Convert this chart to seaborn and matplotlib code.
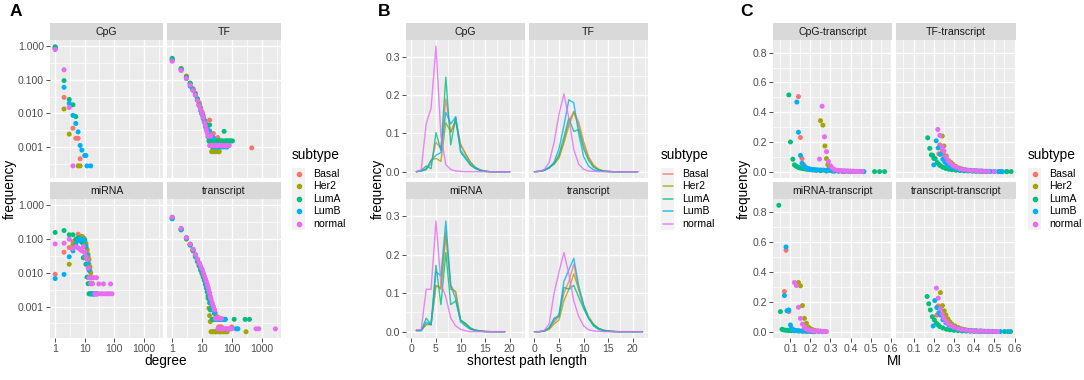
import numpy as np
import pandas as pd
import seaborn as sns
import matplotlib.pyplot as plt
from matplotlib.ticker import FixedLocator, NullFormatter
from matplotlib.patches import Rectangle
from matplotlib.lines import Line2D

SUBTYPES = ['Basal', 'Her2', 'LumA', 'LumB', 'normal']
COLORS = ['#F8766D', '#A3A500', '#00BF7D', '#00B0F6', '#E76BF3']
PALETTE = dict(zip(SUBTYPES, COLORS))

# ---- panel A: degree distribution, (degree, frequency) pairs ----
A_FACETS = ['CpG', 'TF', 'miRNA', 'transcript']
A_CPG = {
    'Basal': [(1, 0.88), (2, 0.030), (4, 0.0036), (5, 0.0018), (6, 0.0018), (7, 0.00044)],
    'Her2': [(1, 0.95), (2, 0.0135), (3, 0.0024), (6, 0.00027), (7, 0.00027)],
    'LumA': [(1, 0.97), (2, 0.095), (3, 0.026), (4, 0.018), (5, 0.008)],
    'LumB': [(1, 0.85), (2, 0.060), (3, 0.020), (4, 0.0087), (5, 0.005), (6, 0.0028), (7, 0.0011),
             (8, 0.0008), (10, 0.00055), (11, 0.00055), (12, 0.00027), (16, 0.00027)],
    'normal': [(1, 0.80), (2, 0.20), (3, 0.015), (4, 0.00027)],
}
A_TF = {
    'Basal': [(1, 0.40), (2, 0.21), (3, 0.125), (4, 0.075), (5, 0.055), (6, 0.040), (7, 0.027), (8, 0.021),
              (9, 0.015), (10, 0.011), (11, 0.0085), (12, 0.0065), (13, 0.0056), (14, 0.0047), (15, 0.0037),
              (16, 0.0028), (17, 0.0028), (18, 0.0063), (20, 0.0019), (22, 0.0019), (24, 0.0025),
              (27, 0.00093), (30, 0.00093), (34, 0.0019), (464, 0.00093)],
    'Her2': [(1, 0.42), (2, 0.22), (3, 0.13), (4, 0.078), (5, 0.052), (6, 0.037), (7, 0.026), (8, 0.019),
             (9, 0.014), (10, 0.0105), (11, 0.0079), (12, 0.0058), (13, 0.0043), (14, 0.0036), (15, 0.0029),
             (16, 0.0022), (17, 0.0022), (18, 0.0014), (19, 0.0014), (20, 0.0014), (21, 0.00072),
             (22, 0.00072), (24, 0.00072), (26, 0.00072), (28, 0.00072), (30, 0.00072), (33, 0.00072),
             (36, 0.00072), (38, 0.00072)],
    'LumA': [(1, 0.44), (2, 0.21), (3, 0.12), (4, 0.08), (5, 0.05), (6, 0.037), (7, 0.027), (8, 0.018),
             (9, 0.013), (10, 0.0095), (11, 0.0075), (12, 0.006), (13, 0.0045), (14, 0.0045), (15, 0.003),
             (16, 0.003), (17, 0.0015), (18, 0.0045), (19, 0.0015), (20, 0.0015), (21, 0.0015), (22, 0.0015),
             (24, 0.0015), (26, 0.0015), (28, 0.0015), (30, 0.0015), (32, 0.0015), (35, 0.0015), (38, 0.0015),
             (42, 0.0015), (46, 0.0015), (50, 0.0015), (55, 0.0029), (60, 0.0015), (65, 0.0015), (70, 0.0015),
             (78, 0.0015), (85, 0.0015), (95, 0.0015), (105, 0.0015)],
    'LumB': [(1, 0.38), (2, 0.20), (3, 0.11), (4, 0.065), (5, 0.05), (6, 0.035), (7, 0.025), (8, 0.017),
             (9, 0.012), (10, 0.0095), (11, 0.007), (12, 0.0055), (13, 0.004), (14, 0.0035), (15, 0.003),
             (16, 0.002), (17, 0.002), (18, 0.003), (20, 0.002), (22, 0.001), (24, 0.0019), (26, 0.001),
             (28, 0.001), (30, 0.001), (33, 0.001), (36, 0.001), (40, 0.001), (44, 0.001), (48, 0.001),
             (52, 0.001), (58, 0.001), (65, 0.001), (70, 0.001)],
    'normal': [(1, 0.36), (2, 0.19), (3, 0.11), (4, 0.07), (5, 0.048), (6, 0.035), (7, 0.024), (8, 0.017),
               (9, 0.013), (10, 0.01), (11, 0.0075), (12, 0.0053), (13, 0.0042), (14, 0.0032), (15, 0.0026),
               (16, 0.0021), (17, 0.0021), (18, 0.0011), (19, 0.0011), (20, 0.0021), (21, 0.0011),
               (22, 0.0011), (24, 0.0011), (26, 0.0011), (28, 0.0011), (30, 0.0011), (33, 0.0011),
               (36, 0.0011), (40, 0.0011), (44, 0.0011), (48, 0.0011), (53, 0.0011), (58, 0.0011),
               (64, 0.0011), (70, 0.0011), (76, 0.0011), (82, 0.0011)],
}
A_MIRNA = {
    'Basal': [(1, 0.0091), (2, 0.041), (3, 0.056), (4, 0.085), (5, 0.09), (6, 0.14), (7, 0.11), (8, 0.12),
              (9, 0.11), (10, 0.095), (11, 0.065), (12, 0.045), (13, 0.03), (14, 0.018), (15, 0.012),
              (16, 0.0072), (18, 0.0048), (20, 0.0024), (22, 0.0024)],
    'Her2': [(3, 0.018), (4, 0.07), (5, 0.08), (6, 0.10), (7, 0.11), (8, 0.12), (9, 0.11), (10, 0.10),
             (11, 0.075), (12, 0.05), (13, 0.035), (14, 0.025), (15, 0.015), (16, 0.01), (17, 0.0072),
             (18, 0.0048), (20, 0.0024), (22, 0.0024), (25, 0.0024)],
    'LumA': [(1, 0.158), (2, 0.18), (3, 0.135), (4, 0.135), (5, 0.10), (6, 0.11), (7, 0.10), (8, 0.08),
             (9, 0.028), (10, 0.03), (11, 0.018), (12, 0.0075), (13, 0.0048), (14, 0.0024), (15, 0.0024),
             (16, 0.0024), (17, 0.0024), (18, 0.0024), (20, 0.0024)],
    'LumB': [(1, 0.0068), (2, 0.009), (3, 0.03), (4, 0.045), (5, 0.07), (6, 0.09), (7, 0.10), (8, 0.10),
             (9, 0.10), (10, 0.09), (11, 0.06), (12, 0.035), (13, 0.02), (14, 0.012), (15, 0.0072),
             (16, 0.0048), (18, 0.0024), (20, 0.0024), (22, 0.0024), (25, 0.0024), (28, 0.0024)],
    'normal': [(1, 0.072), (2, 0.076), (3, 0.10), (4, 0.053), (5, 0.06), (6, 0.055), (7, 0.05), (8, 0.045),
               (9, 0.06), (10, 0.04), (11, 0.03), (12, 0.025), (13, 0.014), (14, 0.0072), (15, 0.0072),
               (16, 0.0048), (17, 0.0072), (18, 0.0048), (20, 0.0072), (22, 0.0024), (25, 0.0072),
               (28, 0.0024), (30, 0.0047), (35, 0.0024), (40, 0.0024), (43, 0.0047), (50, 0.0024),
               (60, 0.0024), (70, 0.0024), (75, 0.0047), (84, 0.0024)],
}
A_TRANSCRIPT = {
    'Basal': [(1, 0.41), (2, 0.20), (3, 0.11), (4, 0.07), (5, 0.048), (6, 0.033), (7, 0.024), (8, 0.018),
              (9, 0.014), (10, 0.011), (11, 0.009), (12, 0.007), (13, 0.0056), (14, 0.0046), (15, 0.0038),
              (16, 0.0031), (17, 0.0026), (18, 0.0021), (19, 0.0017), (20, 0.0015), (22, 0.0012),
              (24, 0.001), (26, 0.0008), (28, 0.00065), (30, 0.0005), (33, 0.0005), (36, 0.00025),
              (40, 0.00025), (45, 0.00025), (100, 0.00025)],
    'Her2': [(1, 0.44), (2, 0.19), (3, 0.10), (4, 0.066), (5, 0.045), (6, 0.031), (7, 0.022), (8, 0.017),
             (9, 0.013), (10, 0.01), (11, 0.008), (12, 0.0063), (13, 0.005), (14, 0.0036), (15, 0.0027),
             (16, 0.0018), (17, 0.0009), (18, 0.00054), (19, 0.00036), (20, 0.00018), (22, 0.00018),
             (25, 0.00018), (28, 0.00018), (30, 0.00018), (34, 0.00018), (38, 0.00018), (42, 0.00018),
             (48, 0.00018), (55, 0.00018), (62, 0.00018), (70, 0.00018), (300, 0.00018)],
    'LumA': [(1, 0.42), (2, 0.20), (3, 0.105), (4, 0.068), (5, 0.046), (6, 0.03), (7, 0.022), (8, 0.016),
             (9, 0.012), (10, 0.0095), (11, 0.0075), (12, 0.006), (13, 0.0045), (14, 0.0035), (15, 0.0028),
             (16, 0.0021), (17, 0.0017), (18, 0.0013), (19, 0.0008), (20, 0.00084), (22, 0.00042),
             (24, 0.00042), (26, 0.00042), (28, 0.00042), (30, 0.00042), (33, 0.00042), (36, 0.00042),
             (40, 0.00042), (45, 0.00042), (50, 0.00042), (55, 0.00042), (60, 0.00042), (120, 0.00042),
             (280, 0.00042), (390, 0.00042)],
    'LumB': [(1, 0.40), (2, 0.19), (3, 0.11), (4, 0.07), (5, 0.05), (6, 0.034), (7, 0.025), (8, 0.019),
             (9, 0.015), (10, 0.012), (11, 0.0095), (12, 0.0075), (13, 0.006), (14, 0.0048), (15, 0.0039),
             (16, 0.0031), (17, 0.0025), (18, 0.002), (19, 0.0016), (20, 0.0013), (22, 0.001), (24, 0.0008),
             (26, 0.00063), (28, 0.00042), (32, 0.00042), (36, 0.00042), (40, 0.00042), (45, 0.00042),
             (50, 0.00042), (60, 0.00042), (140, 0.00022), (160, 0.00022)],
    'normal': [(1, 0.45), (2, 0.21), (3, 0.11), (4, 0.072), (5, 0.05), (6, 0.035), (7, 0.026), (8, 0.02),
               (9, 0.016), (10, 0.013), (11, 0.01), (12, 0.008), (13, 0.0066), (14, 0.0055), (15, 0.0045),
               (16, 0.0037), (17, 0.003), (18, 0.0025), (19, 0.002), (20, 0.0017), (22, 0.0013), (24, 0.001),
               (26, 0.0008), (28, 0.00044), (30, 0.00044), (32, 0.00044), (36, 0.00044), (40, 0.00044),
               (45, 0.00044), (34, 0.00022), (38, 0.00022), (42, 0.00022), (48, 0.00022), (52, 0.00022),
               (58, 0.00022), (64, 0.00022), (72, 0.00022), (80, 0.00022), (90, 0.00022), (100, 0.00022),
               (650, 0.00022), (800, 0.00022), (2900, 0.00022)],
}

# ---- panel B: shortest path length distributions ----
B_FACETS = ['CpG', 'TF', 'miRNA', 'transcript']
B_X_CPG = [1, 2, 3, 4, 5, 6, 7, 8, 9, 10, 11, 12, 13, 14, 15, 16, 17, 18, 19, 20]
B_CPG = {
    'Basal': [0, 0.003, 0.008, 0.02, 0.077, 0.06, 0.19, 0.103, 0.138, 0.073, 0.047, 0.025, 0.01, 0.004, 0.001, 0, 0, 0, 0, 0],
    'Her2': [0, 0.002, 0.005, 0.03, 0.035, 0.027, 0.128, 0.104, 0.13, 0.069, 0.047, 0.025, 0.012, 0.005, 0.002, 0, 0, 0, 0, 0],
    'LumA': [0, 0.003, 0.015, 0.008, 0.102, 0.056, 0.247, 0.07, 0.143, 0.051, 0.034, 0.017, 0.008, 0.003, 0.001, 0, 0, 0, 0, 0],
    'LumB': [0, 0.002, 0.006, 0.03, 0.043, 0.05, 0.155, 0.125, 0.143, 0.056, 0.038, 0.02, 0.01, 0.004, 0.001, 0, 0, 0, 0, 0],
    'normal': [0, 0.005, 0.125, 0.166, 0.328, 0.095, 0.018, 0.006, 0.002, 0.001, 0, 0, 0, 0, 0, 0, 0, 0, 0, 0],
}
B_X_TF = [0, 1, 2, 3, 4, 5, 6, 7, 8, 9, 10, 11, 12, 13, 14, 15, 16, 17, 18, 19, 20, 21]
B_TF = {
    'Basal': [0, 0.001, 0.004, 0.01, 0.022, 0.04, 0.08, 0.13, 0.158, 0.13, 0.08, 0.04, 0.018, 0.007, 0.002, 0.001, 0, 0, 0, 0, 0, 0],
    'Her2': [0, 0.001, 0.004, 0.01, 0.02, 0.035, 0.075, 0.12, 0.155, 0.12, 0.07, 0.035, 0.015, 0.006, 0.002, 0.001, 0, 0, 0, 0, 0, 0],
    'LumA': [0, 0.001, 0.004, 0.012, 0.02, 0.045, 0.09, 0.14, 0.105, 0.11, 0.06, 0.03, 0.012, 0.005, 0.002, 0.001, 0, 0, 0, 0, 0, 0],
    'LumB': [0, 0.001, 0.003, 0.01, 0.025, 0.06, 0.12, 0.188, 0.18, 0.10, 0.04, 0.015, 0.005, 0.002, 0.001, 0, 0, 0, 0, 0, 0, 0],
    'normal': [0, 0.001, 0.006, 0.024, 0.077, 0.15, 0.203, 0.14, 0.058, 0.02, 0.006, 0.002, 0.001, 0, 0, 0, 0, 0, 0, 0, 0, 0],
}
B_X_MIRNA = [1, 2, 3, 4, 5, 6, 7, 8, 9, 10, 11, 12, 13, 14, 15, 16, 17, 18, 19]
B_MIRNA = {
    'Basal': [0.003, 0.003, 0.02, 0.02, 0.12, 0.115, 0.25, 0.12, 0.10, 0.03, 0.02, 0.008, 0.004, 0.002, 0.001, 0, 0, 0, 0],
    'Her2': [0.003, 0.003, 0.018, 0.018, 0.12, 0.11, 0.26, 0.11, 0.105, 0.03, 0.018, 0.008, 0.004, 0.002, 0.001, 0, 0, 0, 0],
    'LumA': [0.003, 0.003, 0.035, 0.018, 0.172, 0.07, 0.205, 0.07, 0.08, 0.03, 0.022, 0.01, 0.004, 0.002, 0, 0, 0, 0, 0],
    'LumB': [0.003, 0.003, 0.025, 0.018, 0.155, 0.145, 0.287, 0.12, 0.085, 0.025, 0.015, 0.006, 0.003, 0.001, 0, 0, 0, 0, 0],
    'normal': [0.005, 0.005, 0.11, 0.11, 0.287, 0.125, 0.09, 0.035, 0.015, 0.006, 0.002, 0, 0, 0, 0, 0, 0, 0, 0],
}
B_X_TRANSCRIPT = [0, 1, 2, 3, 4, 5, 6, 7, 8, 9, 10, 11, 12, 13, 14, 15, 16, 17, 18, 19, 20, 21, 22]
B_TRANSCRIPT = {
    'Basal': [0, 0, 0.002, 0.008, 0.025, 0.04, 0.10, 0.13, 0.175, 0.11, 0.065, 0.035, 0.018, 0.008, 0.003, 0.001, 0, 0, 0, 0, 0, 0, 0],
    'Her2': [0, 0, 0.001, 0.006, 0.02, 0.03, 0.08, 0.11, 0.15, 0.11, 0.07, 0.04, 0.02, 0.009, 0.004, 0.002, 0.001, 0, 0, 0, 0, 0, 0],
    'LumA': [0, 0, 0.002, 0.01, 0.035, 0.04, 0.115, 0.11, 0.12, 0.09, 0.06, 0.035, 0.018, 0.009, 0.004, 0.002, 0.001, 0, 0, 0, 0, 0, 0],
    'LumB': [0, 0, 0.002, 0.01, 0.03, 0.045, 0.13, 0.16, 0.19, 0.12, 0.07, 0.035, 0.015, 0.006, 0.002, 0.001, 0, 0, 0, 0, 0, 0, 0],
    'normal': [0, 0, 0.003, 0.02, 0.10, 0.155, 0.205, 0.15, 0.08, 0.04, 0.015, 0.005, 0.002, 0.001, 0, 0, 0, 0, 0, 0, 0, 0, 0],
}

# ---- panel C: MI distributions, (MI, frequency) pairs ----
C_FACETS = ['CpG-transcript', 'TF-transcript', 'miRNA-transcript', 'transcript-transcript']
C_CPG = {
    'Basal': [(0.14, 0.505), (0.15, 0.23), (0.158, 0.088), (0.167, 0.046), (0.175, 0.03), (0.185, 0.02),
              (0.20, 0.014), (0.22, 0.01), (0.25, 0.007), (0.28, 0.005), (0.32, 0.003), (0.36, 0.002), (0.40, 0.001)],
    'Her2': [(0.25, 0.343), (0.262, 0.313), (0.272, 0.173), (0.28, 0.088), (0.287, 0.047), (0.295, 0.03),
             (0.305, 0.018), (0.32, 0.01), (0.34, 0.006), (0.37, 0.003), (0.40, 0.002)],
    'LumA': [(0.092, 0.516), (0.10, 0.20), (0.112, 0.084), (0.12, 0.046), (0.128, 0.038), (0.135, 0.033),
             (0.142, 0.028), (0.15, 0.025), (0.16, 0.022), (0.17, 0.02), (0.18, 0.017), (0.195, 0.014),
             (0.21, 0.012), (0.23, 0.01), (0.25, 0.008), (0.28, 0.006), (0.31, 0.005), (0.34, 0.004),
             (0.37, 0.003), (0.40, 0.002), (0.43, 0.002), (0.46, 0.001), (0.52, 0.001), (0.545, 0.001), (0.57, 0.001)],
    'LumB': [(0.132, 0.468), (0.14, 0.265), (0.15, 0.11), (0.158, 0.057), (0.167, 0.035), (0.18, 0.025),
             (0.19, 0.02), (0.20, 0.018), (0.21, 0.016), (0.22, 0.015), (0.235, 0.013), (0.25, 0.012),
             (0.265, 0.011), (0.28, 0.01), (0.295, 0.009), (0.31, 0.008), (0.325, 0.007), (0.34, 0.006),
             (0.355, 0.005), (0.37, 0.004), (0.385, 0.004), (0.40, 0.003), (0.415, 0.003), (0.43, 0.002),
             (0.445, 0.002), (0.467, 0.001)],
    'normal': [(0.245, 0.085), (0.258, 0.44), (0.27, 0.235), (0.28, 0.135), (0.29, 0.07), (0.30, 0.04),
               (0.31, 0.025), (0.32, 0.015), (0.335, 0.01), (0.35, 0.007), (0.36, 0.006), (0.37, 0.005),
               (0.38, 0.0045), (0.39, 0.004), (0.40, 0.0035), (0.41, 0.003), (0.42, 0.0025), (0.43, 0.002),
               (0.44, 0.0015), (0.458, 0.001)],
}
C_TF = {
    'Basal': [(0.225, 0.12), (0.23, 0.18), (0.242, 0.14), (0.252, 0.11), (0.262, 0.085), (0.275, 0.065),
              (0.29, 0.045), (0.31, 0.03), (0.33, 0.02), (0.35, 0.014), (0.38, 0.009), (0.41, 0.006),
              (0.44, 0.004), (0.47, 0.003), (0.50, 0.002), (0.53, 0.001), (0.563, 0.001)],
    'Her2': [(0.242, 0.24), (0.25, 0.173), (0.262, 0.106), (0.275, 0.073), (0.285, 0.062), (0.295, 0.05),
             (0.31, 0.035), (0.325, 0.025), (0.34, 0.018), (0.36, 0.012), (0.38, 0.008), (0.40, 0.006),
             (0.43, 0.004), (0.46, 0.002)],
    'LumA': [(0.17, 0.228), (0.18, 0.157), (0.188, 0.113), (0.195, 0.11), (0.20, 0.09), (0.207, 0.088),
             (0.217, 0.062), (0.225, 0.05), (0.233, 0.04), (0.245, 0.03), (0.26, 0.022), (0.275, 0.017),
             (0.29, 0.013), (0.31, 0.01), (0.33, 0.008), (0.35, 0.006), (0.37, 0.005), (0.39, 0.004),
             (0.41, 0.003), (0.43, 0.003), (0.45, 0.002), (0.47, 0.002), (0.50, 0.001), (0.53, 0.001),
             (0.56, 0.001), (0.583, 0.001)],
    'LumB': [(0.20, 0.046), (0.212, 0.208), (0.222, 0.16), (0.233, 0.117), (0.245, 0.084), (0.255, 0.065),
             (0.265, 0.05), (0.28, 0.035), (0.30, 0.025), (0.32, 0.018), (0.34, 0.013), (0.36, 0.01),
             (0.38, 0.008), (0.40, 0.006), (0.42, 0.005), (0.44, 0.004), (0.46, 0.003), (0.48, 0.002),
             (0.50, 0.002), (0.52, 0.001), (0.54, 0.001)],
    'normal': [(0.22, 0.284), (0.23, 0.244), (0.242, 0.17), (0.25, 0.14), (0.26, 0.10), (0.27, 0.075),
               (0.28, 0.058), (0.295, 0.042), (0.31, 0.03), (0.33, 0.02), (0.35, 0.014), (0.37, 0.01),
               (0.39, 0.008), (0.41, 0.006), (0.43, 0.004), (0.45, 0.003), (0.47, 0.002), (0.50, 0.001)],
}
C_MIRNA = {
    'Basal': [(0.07, 0.268), (0.078, 0.543), (0.092, 0.134), (0.103, 0.022), (0.11, 0.015), (0.12, 0.01),
              (0.13, 0.007), (0.15, 0.005), (0.17, 0.003), (0.19, 0.002), (0.21, 0.001)],
    'Her2': [(0.14, 0.328), (0.15, 0.306), (0.16, 0.174), (0.17, 0.089), (0.18, 0.056), (0.19, 0.03),
             (0.20, 0.02), (0.21, 0.013), (0.22, 0.009), (0.235, 0.006), (0.25, 0.004), (0.27, 0.002)],
    'LumA': [(0.042, 0.843), (0.05, 0.134), (0.058, 0.016), (0.065, 0.012), (0.075, 0.01), (0.085, 0.009),
             (0.095, 0.008), (0.105, 0.007), (0.12, 0.006), (0.14, 0.005), (0.16, 0.004), (0.18, 0.003),
             (0.20, 0.002), (0.22, 0.001)],
    'LumB': [(0.07, 0.241), (0.078, 0.565), (0.083, 0.14), (0.092, 0.145), (0.10, 0.045), (0.108, 0.02),
             (0.115, 0.012), (0.125, 0.008), (0.14, 0.006), (0.16, 0.005), (0.18, 0.004), (0.20, 0.003),
             (0.22, 0.002), (0.24, 0.002), (0.26, 0.001)],
    'normal': [(0.12, 0.328), (0.13, 0.308), (0.14, 0.163), (0.15, 0.089), (0.16, 0.051), (0.17, 0.027),
               (0.18, 0.018), (0.19, 0.012), (0.20, 0.009), (0.21, 0.007), (0.22, 0.005), (0.235, 0.004),
               (0.25, 0.003), (0.265, 0.002), (0.28, 0.001)],
}
C_TRANSCRIPT = {
    'Basal': [(0.215, 0.11), (0.222, 0.172), (0.23, 0.112), (0.247, 0.10), (0.26, 0.075), (0.275, 0.055),
              (0.29, 0.04), (0.31, 0.028), (0.33, 0.02), (0.35, 0.014), (0.38, 0.009), (0.41, 0.006),
              (0.44, 0.004), (0.47, 0.002), (0.50, 0.001)],
    'Her2': [(0.233, 0.261), (0.243, 0.174), (0.252, 0.139), (0.26, 0.112), (0.27, 0.085), (0.28, 0.065),
             (0.29, 0.05), (0.305, 0.038), (0.32, 0.028), (0.34, 0.018), (0.36, 0.012), (0.38, 0.008),
             (0.40, 0.006), (0.43, 0.004), (0.46, 0.002)],
    'LumA': [(0.167, 0.235), (0.175, 0.186), (0.183, 0.145), (0.193, 0.10), (0.203, 0.078), (0.213, 0.056),
             (0.222, 0.045), (0.23, 0.034), (0.245, 0.025), (0.263, 0.016), (0.28, 0.012), (0.30, 0.009),
             (0.32, 0.007), (0.34, 0.005), (0.36, 0.004), (0.38, 0.003), (0.40, 0.003), (0.42, 0.002),
             (0.44, 0.002), (0.46, 0.001), (0.48, 0.001), (0.50, 0.001), (0.55, 0.001), (0.58, 0.001)],
    'LumB': [(0.197, 0.038), (0.205, 0.208), (0.215, 0.161), (0.225, 0.127), (0.233, 0.112), (0.245, 0.08),
             (0.26, 0.06), (0.275, 0.045), (0.29, 0.032), (0.31, 0.022), (0.33, 0.015), (0.35, 0.011),
             (0.37, 0.008), (0.39, 0.006), (0.41, 0.005), (0.43, 0.004), (0.45, 0.003), (0.47, 0.002),
             (0.49, 0.002), (0.51, 0.001), (0.53, 0.001), (0.567, 0.001)],
    'normal': [(0.213, 0.291), (0.222, 0.224), (0.233, 0.152), (0.242, 0.118), (0.25, 0.09), (0.26, 0.07),
               (0.27, 0.055), (0.285, 0.04), (0.30, 0.03), (0.32, 0.02), (0.34, 0.014), (0.36, 0.01),
               (0.38, 0.007), (0.40, 0.005), (0.42, 0.004), (0.44, 0.003), (0.46, 0.002), (0.48, 0.002),
               (0.50, 0.001), (0.515, 0.001)],
}


def pairs_frame(facets, tables, xname):
    rows = []
    for facet, table in zip(facets, tables):
        for sub in SUBTYPES:
            for x, y in table[sub]:
                rows.append((facet, sub, x, y))
    return pd.DataFrame(rows, columns=['facet', 'subtype', xname, 'frequency'])


def lines_frame(facets, xs, tables):
    rows = []
    for facet, xvals, table in zip(facets, xs, tables):
        for sub in SUBTYPES:
            for x, y in zip(xvals, table[sub]):
                rows.append((facet, sub, x, y))
    return pd.DataFrame(rows, columns=['facet', 'subtype', 'length', 'frequency'])


df_a = pairs_frame(A_FACETS, [A_CPG, A_TF, A_MIRNA, A_TRANSCRIPT], 'degree')
df_b = lines_frame(B_FACETS, [B_X_CPG, B_X_TF, B_X_MIRNA, B_X_TRANSCRIPT],
                   [B_CPG, B_TF, B_MIRNA, B_TRANSCRIPT])
df_c = pairs_frame(C_FACETS, [C_CPG, C_TF, C_MIRNA, C_TRANSCRIPT], 'MI')

sns.set_theme(style='darkgrid')
plt.rcParams['font.family'] = ['Liberation Sans', 'DejaVu Sans']

W, H = 1084, 380
fig = plt.figure(figsize=(W / 100, H / 100), dpi=100)
fig.patch.set_facecolor('white')

ROWS = [(23, 40, 178), (182, 199, 338)]  # strip top, panel top, panel bottom


def box(x0, y0, x1, y1):
    return fig.add_axes([x0 / W, 1 - y1 / H, (x1 - x0) / W, (y1 - y0) / H])


def facet_axes(cols, names):
    out = []
    for r, (st, pt, pb) in enumerate(ROWS):
        for c, (x0, x1) in enumerate(cols):
            strip = box(x0, st, x1, pt)
            strip.set_facecolor('#D9D9D9')
            strip.set_xticks([])
            strip.set_yticks([])
            strip.grid(False)
            for s in strip.spines.values():
                s.set_visible(False)
            strip.text(0.5, 0.48, names[r * 2 + c], ha='center', va='center',
                       fontsize=7.6, color='#1A1A1A', transform=strip.transAxes)
            ax = box(x0, pt, x1, pb)
            out.append((ax, names[r * 2 + c], r == 1, c == 0))
    return out


def style(ax, bottom, left, xmaj, xmin, ymaj, ymin, xlabels, ylabels):
    ax.set_facecolor('#EBEBEB')
    for s in ax.spines.values():
        s.set_visible(False)
    ax.xaxis.set_major_locator(FixedLocator(xmaj))
    ax.xaxis.set_minor_locator(FixedLocator(xmin))
    ax.yaxis.set_major_locator(FixedLocator(ymaj))
    ax.yaxis.set_minor_locator(FixedLocator(ymin))
    ax.xaxis.set_minor_formatter(NullFormatter())
    ax.yaxis.set_minor_formatter(NullFormatter())
    ax.set_xticklabels(xlabels)
    ax.set_yticklabels(ylabels)
    ax.grid(which='major', color='white', linewidth=1.0)
    ax.grid(which='minor', color='white', linewidth=0.5)
    ax.set_axisbelow(True)
    ax.tick_params(which='major', length=2.75, width=0.6, color='#333333',
                   labelcolor='#4D4D4D', labelsize=7.6, pad=1.5,
                   bottom=bottom, labelbottom=bottom, left=left, labelleft=left)
    ax.tick_params(which='minor', length=0, bottom=False, left=False)
    ax.set_xlabel('')
    ax.set_ylabel('')


# ---- A ----
for ax, name, bottom, left in facet_axes([(50, 163), (167, 281)], A_FACETS):
    sub = df_a[df_a['facet'] == name]
    sns.scatterplot(data=sub, x='degree', y='frequency', hue='subtype', hue_order=SUBTYPES,
                    palette=PALETTE, s=13, linewidth=0, legend=False, ax=ax)
    ax.set_xscale('log')
    ax.set_yscale('log')
    ax.set_xlim(10 ** -0.174, 10 ** 3.65)
    ax.set_ylim(10 ** -3.93, 10 ** 0.19)
    style(ax, bottom, left,
          [1, 10, 100, 1000], [10 ** -0.5, 10 ** 0.5, 10 ** 1.5, 10 ** 2.5, 10 ** 3.5],
          [0.001, 0.01, 0.1, 1], [10 ** -3.5, 10 ** -2.5, 10 ** -1.5, 10 ** -0.5],
          ['1', '10', '100', '1000'], ['0.001', '0.010', '0.100', '1.000'])

# ---- B ----
for ax, name, bottom, left in facet_axes([(406, 525), (529, 648)], B_FACETS):
    sub = df_b[df_b['facet'] == name]
    sns.lineplot(data=sub, x='length', y='frequency', hue='subtype', hue_order=SUBTYPES,
                 palette=PALETTE, linewidth=1.0, alpha=0.8, estimator=None, legend=False, ax=ax)
    ax.set_xlim(-1.1, 23.1)
    ax.set_ylim(-0.0164, 0.344)
    style(ax, bottom, left,
          [0, 5, 10, 15, 20], [2.5, 7.5, 12.5, 17.5, 22.5],
          [0, 0.1, 0.2, 0.3], [0.05, 0.15, 0.25],
          ['0', '5', '10', '15', '20'], ['0.0', '0.1', '0.2', '0.3'])

# ---- C ----
for ax, name, bottom, left in facet_axes([(773, 892), (896, 1016)], C_FACETS):
    sub = df_c[df_c['facet'] == name]
    sns.scatterplot(data=sub, x='MI', y='frequency', hue='subtype', hue_order=SUBTYPES,
                    palette=PALETTE, s=13, linewidth=0, legend=False, ax=ax)
    ax.set_xlim(0.013, 0.607)
    ax.set_ylim(-0.042, 0.885)
    style(ax, bottom, left,
          [0.1, 0.2, 0.3, 0.4, 0.5, 0.6], [0.05, 0.15, 0.25, 0.35, 0.45, 0.55],
          [0, 0.2, 0.4, 0.6, 0.8], [0.1, 0.3, 0.5, 0.7],
          ['0.1', '0.2', '0.3', '0.4', '0.5', '0.6'], ['0.0', '0.2', '0.4', '0.6', '0.8'])

# ---- overlay: titles, labels, legends in pixel coordinates ----
ov = fig.add_axes([0, 0, 1, 1])
ov.set_xlim(0, W)
ov.set_ylim(H, 0)
ov.axis('off')

for letter, x in [('A', 10), ('B', 378), ('C', 740)]:
    ov.text(x, 11, letter, fontsize=12.5, fontweight='bold', ha='left', va='center', color='black')

for label, x in [('degree', 165.5), ('shortest path length', 527), ('MI', 894.5)]:
    ov.text(x, 361, label, fontsize=9.8, ha='center', va='center', color='black')

for x in [10, 378, 744]:
    ov.text(x, 189, 'frequency', fontsize=9.8, rotation=90, ha='center', va='center', color='black')


def legend(x, kind):
    ov.text(x, 155, 'subtype', fontsize=9.8, ha='left', va='center', color='black')
    for i, (name, col) in enumerate(zip(SUBTYPES, COLORS)):
        yc = 174 + i * 12.45
        ov.add_patch(Rectangle((x, yc - 6.2), 13, 12.45, facecolor='#F2F2F2', edgecolor='none'))
        if kind == 'point':
            ov.add_line(Line2D([x + 6.5], [yc], marker='o', markersize=3.0, color=col, linestyle='none'))
        else:
            ov.add_line(Line2D([x + 1.5, x + 11.5], [yc, yc], color=col, linewidth=1.1, alpha=0.8))
        ov.text(x + 21, yc, name, fontsize=7.6, ha='left', va='center', color='black')


legend(292, 'point')
legend(661, 'line')
legend(1028, 'point')

fig.savefig('out.png', dpi=100)
